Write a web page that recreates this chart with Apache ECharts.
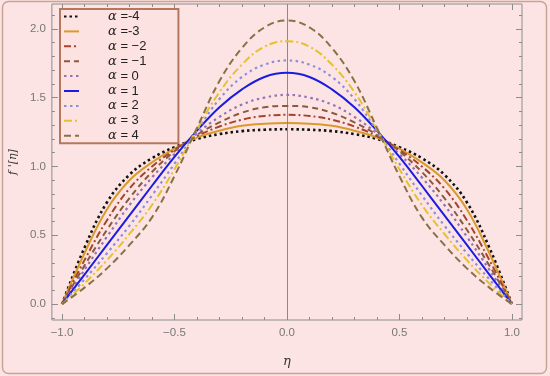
<!DOCTYPE html>
<html>
<head>
<meta charset="utf-8">
<script src="https://cdn.jsdelivr.net/npm/echarts@6/dist/echarts.min.js"></script>
<style>
html,body{margin:0;padding:0;background:#fde4e4;}
#c{width:550px;height:376px;}
</style>
</head>
<body>
<div id="c"></div>
<script>
// ---- data ----
const eta = [-1,-0.9,-0.8,-0.7,-0.6,-0.5,-0.4,-0.3,-0.2,-0.1,0,0.1,0.2,0.3,0.4,0.5,0.6,0.7,0.8,0.9,1];
const alphaNames = ['α =-4','α =-3','α = −2','α = −1','α = 0','α = 1','α = 2','α = 3','α = 4'];
const aM4 = [0,0.41,0.74,0.94,1.06,1.14,1.20,1.235,1.257,1.267,1.27,1.267,1.257,1.235,1.20,1.14,1.06,0.94,0.74,0.41,0];
const aM3 = [0,0.37,0.69,0.90,1.03,1.13,1.21,1.26,1.295,1.31,1.315,1.31,1.295,1.26,1.21,1.13,1.03,0.90,0.69,0.37,0];
const aM2 = [0,0.32,0.61,0.84,1.00,1.12,1.22,1.29,1.34,1.367,1.375,1.367,1.34,1.29,1.22,1.12,1.00,0.84,0.61,0.32,0];
const aM1 = [0,0.28,0.54,0.77,0.96,1.11,1.23,1.32,1.39,1.43,1.44,1.43,1.39,1.32,1.23,1.11,0.96,0.77,0.54,0.28,0];
const a0  = [0,0.25,0.49,0.72,0.92,1.09,1.24,1.36,1.45,1.50,1.52,1.50,1.45,1.36,1.24,1.09,0.92,0.72,0.49,0.25,0];
const a1  = [0,0.215,0.43,0.645,0.86,1.07,1.26,1.43,1.56,1.65,1.68,1.65,1.56,1.43,1.26,1.07,0.86,0.645,0.43,0.215,0];
const a2  = [0,0.18,0.37,0.57,0.79,1.02,1.26,1.49,1.65,1.74,1.77,1.74,1.65,1.49,1.26,1.02,0.79,0.57,0.37,0.18,0];
const a3  = [0,0.15,0.32,0.51,0.72,0.98,1.27,1.54,1.74,1.87,1.91,1.87,1.74,1.54,1.27,0.98,0.72,0.51,0.32,0.15,0];
const a4  = [0,0.12,0.26,0.43,0.63,0.93,1.28,1.62,1.86,2.01,2.06,2.01,1.86,1.62,1.28,0.93,0.63,0.43,0.26,0.12,0];
const xMajorTicks = [-1,-0.5,0,0.5,1];
const xMinorTicks = [-1,-0.9,-0.8,-0.7,-0.6,-0.5,-0.4,-0.3,-0.2,-0.1,0,0.1,0.2,0.3,0.4,0.5,0.6,0.7,0.8,0.9,1];
const yMajorTicks = [0,0.5,1,1.5,2];
const yMinorTicks = [-0.1,0,0.1,0.2,0.3,0.4,0.5,0.6,0.7,0.8,0.9,1,1.1,1.2,1.3,1.4,1.5,1.6,1.7,1.8,1.9,2,2.1];

// ---- styles ----
const allSeries = [aM4,aM3,aM2,aM1,a0,a1,a2,a3,a4];
const styles = [
  {color:'#111111', width:2.6, type:[2.5,3]},
  {color:'#d99a2b', width:2, type:'solid'},
  {color:'#a8432a', width:2, type:[7,3,2,3]},
  {color:'#8b5a3c', width:2, type:[6,4]},
  {color:'#9472b4', width:2.2, type:[2.5,3.5]},
  {color:'#1c1ce0', width:2, type:'solid'},
  {color:'#8c8edc', width:2.2, type:[2.5,3.5]},
  {color:'#e6c12e', width:2, type:[8,3,2,3]},
  {color:'#8a7045', width:2, type:[7,4]}
];
const X_MIN=-1.045, X_MAX=1.045, Y_MIN=-0.115, Y_MAX=2.18;
const frameCol = '#8c8c8c';
const fmt = v => v.toFixed(1).replace('-', '−');

function xAx(pos, ticks, len, labels){
  return {type:'value', min:X_MIN, max:X_MAX, position:pos,
    axisLine:{show:false, onZero:false}, splitLine:{show:false},
    axisTick:{show:true, inside:true, length:len, customValues:ticks, lineStyle:{color:frameCol}},
    axisLabel:{show:labels, customValues:xMajorTicks, formatter:fmt, color:'#777', fontSize:11.5, fontFamily:'Liberation Sans', margin:7}};
}
function yAx(pos, ticks, len, labels){
  return {type:'value', min:Y_MIN, max:Y_MAX, position:pos,
    axisLine:{show:false, onZero:false}, splitLine:{show:false},
    axisTick:{show:true, inside:true, length:len, customValues:ticks, lineStyle:{color:frameCol}},
    axisLabel:{show:labels, customValues:yMajorTicks, formatter:fmt, color:'#777', fontSize:11.5, fontFamily:'Liberation Sans', margin:6}};
}
const xAxes = [xAx('bottom',xMajorTicks,6,true), xAx('bottom',xMinorTicks,3,false), xAx('top',xMajorTicks,6,false), xAx('top',xMinorTicks,3,false)];
xAxes[0].name='η'; xAxes[0].nameLocation='middle'; xAxes[0].nameGap=35;
xAxes[0].nameTextStyle={fontStyle:'italic', fontSize:13, color:'#333', fontFamily:'DejaVu Serif'};
const yAxes = [yAx('left',yMajorTicks,6,true), yAx('left',yMinorTicks,3,false), yAx('right',yMajorTicks,6,false), yAx('right',yMinorTicks,3,false)];
yAxes[0].name="f '[η]"; yAxes[0].nameLocation='middle'; yAxes[0].nameGap=22; yAxes[0].nameRotate=90;
yAxes[0].nameTextStyle={fontStyle:'italic', fontSize:11, color:'#333', fontFamily:'DejaVu Serif'};

const series = [{
  type:'line', data:[], silent:true, z:1,
  markLine:{silent:true, symbol:['none','none'], label:{show:false}, animation:false,
    lineStyle:{color:'#8a8a8a', width:1, type:'solid'}, data:[{xAxis:0}]}
}];
allSeries.forEach((arr,i)=>{
  series.push({
    name: alphaNames[i], type:'line', z:3+i,
    data: eta.map((e,k)=>[e, arr[k]]),
    showSymbol:false, symbol:'none', smooth:0.4,
    lineStyle:{color:styles[i].color, width:styles[i].width, type:styles[i].type, cap:'butt'},
    itemStyle:{color:styles[i].color}
  });
});

const chart = echarts.init(document.getElementById('c'), null, {renderer:'canvas'});
chart.setOption({
  animation:false,
  backgroundColor:'#fde4e4',
  grid:{left:49, top:4, width:473, height:316, show:true, borderColor:frameCol, borderWidth:1, backgroundColor:'transparent'},
  xAxis:xAxes, yAxis:yAxes,
  legend:{
    orient:'vertical', left:60, top:9, data:alphaNames,
    backgroundColor:'#fde2e2', borderColor:'#b5785f', borderWidth:2,
    padding:[1,32,1,3], itemGap:1.9, itemWidth:15, itemHeight:8,
    itemStyle:{opacity:0},
    formatter: n => '{s|}{a|α}{b|' + n.slice(1) + '}',
    textStyle:{
      rich:{
        s:{width:24, lineHeight:11},
        a:{fontStyle:'italic', fontSize:13, lineHeight:11, color:'#222', fontFamily:'DejaVu Serif'},
        b:{fontSize:13, lineHeight:11, color:'#222', fontFamily:'Liberation Sans'}
      }
    }
  },
  graphic:[{type:'rect', silent:true, z:-1,
    shape:{x:2.5, y:1.5, width:544, height:372, r:6},
    style:{fill:'none', stroke:'#c9a394', lineWidth:1.5}}],
  series: series
});
</script>
</body>
</html>
